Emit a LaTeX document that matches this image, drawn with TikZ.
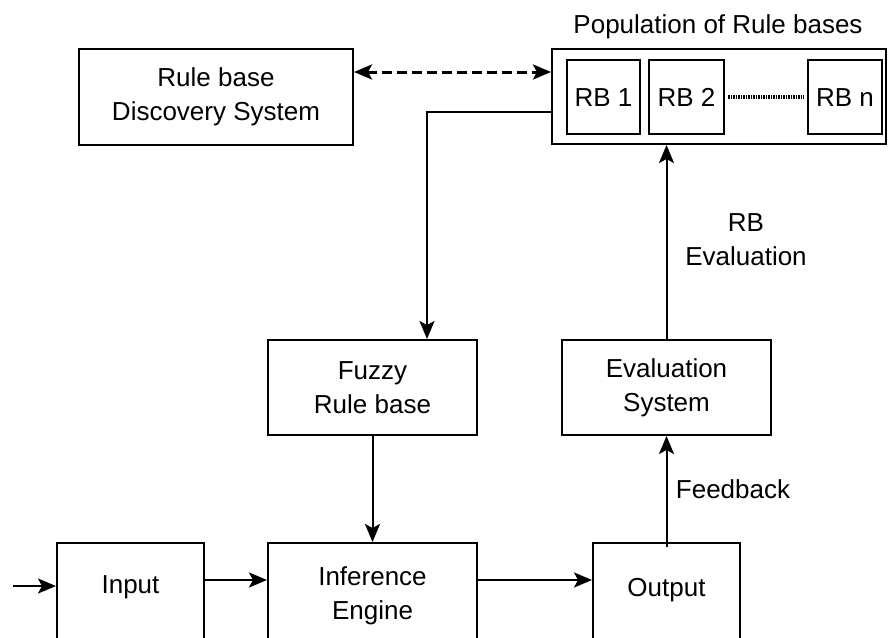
\documentclass[tikz,border=0pt]{standalone}
\usepackage{fontspec}
\setmainfont{Liberation Sans}
\usetikzlibrary{arrows.meta,positioning}
\begin{document}
\begin{tikzpicture}[x=1pt,y=-1pt,
  box/.style={draw,line width=2pt,rectangle,inner sep=0pt,align=center},
  rbbox/.style={box,minimum height=74pt,text height=18.5pt,text depth=0pt},
  txt/.style={inner sep=0pt,align=center},
  arr/.style={line width=2pt,-{Stealth[length=18pt,width=15pt,inset=4pt]}},
  font=\fontsize{26}{34}\selectfont]
\useasboundingbox (0,0) rectangle (888,637);
\clip (0,0) rectangle (888,637);
% top
\node[box,minimum width=274pt,minimum height=96pt] (disc) at (216,97) {Rule base\\Discovery System};
\node[box,minimum width=334pt,minimum height=95pt] (pop) at (719,96.5) {};
\node[txt] (poptitle) at (718,27) {Population of Rule bases};
\node[rbbox,minimum width=73pt] (rb1) at (603.5,97) {RB 1};
\node[rbbox,minimum width=75pt] (rb2) at (686.5,97) {RB 2};
\node[rbbox,minimum width=74pt] (rbn) at (845,97) {RB n};
\draw[line width=3.5pt,dash pattern=on 1.5pt off 1pt] ([xshift=3pt]rb2.east) -- ([xshift=-3pt]rbn.west);
\draw[line width=3pt,dash pattern=on 10pt off 5pt,{Stealth[length=18pt,width=15pt,inset=4pt]}-{Stealth[length=18pt,width=15pt,inset=4pt]}]
  ([yshift=25pt]disc.east) -- ([yshift=25pt]disc.east -| pop.west);
% middle
\node[box,minimum width=209pt,minimum height=95pt] (fuzzy) at (372.5,387.5) {Fuzzy\\Rule base};
\node[box,minimum width=209pt,minimum height=95pt] (eval) at (666.5,387.5) {Evaluation\\System};
\draw[arr] ([yshift=-15.5pt]pop.west) -| ([xshift=54.5pt]fuzzy.north);
\draw[arr] (eval.north) -- (eval.north |- pop.south);
\node[txt] (rbeval) at (746,240) {RB\\Evaluation};
% bottom
\node[box,minimum width=147pt,minimum height=120pt] (inp) at (130.5,603) {};
\node[box,minimum width=209pt,minimum height=120pt] (inf) at (372.5,603) {};
\node[box,minimum width=147pt,minimum height=120pt] (out) at (666.5,603) {};
\node[txt] (inpT) at (130.5,587) {Input};
\node[txt] (infT) at (372.5,596) {Inference\\Engine};
\node[txt] (outT) at (666.5,590) {Output};
\coordinate (start) at (13,586);
\draw[arr] (start) -- (start -| inp.west);
\draw[arr] ([yshift=23pt]inp.east) -- ([yshift=23pt]inf.west);
\draw[arr] ([yshift=23pt]inf.east) -- ([yshift=23pt]out.west);
\draw[arr] (fuzzy.south) -- (inf.north);
\draw[arr] ([yshift=-5pt]out.north) -- (eval.south);
\node[txt] (fb) at (733,489) {Feedback};
\end{tikzpicture}
\end{document}
